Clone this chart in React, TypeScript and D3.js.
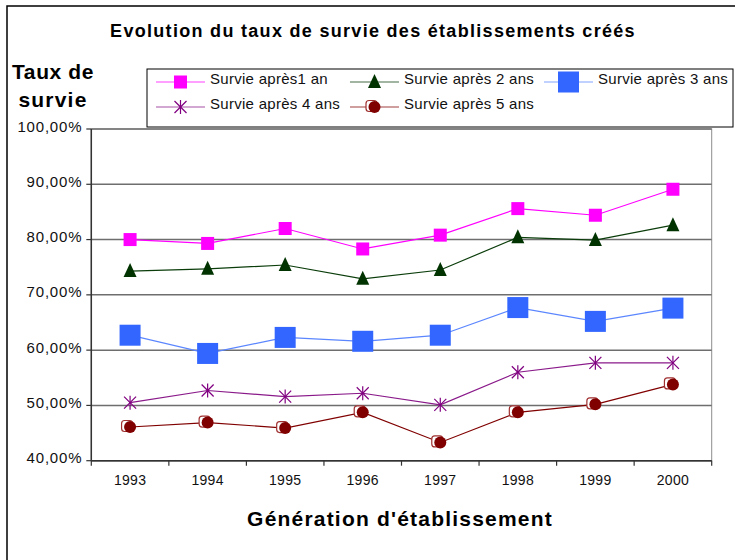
import React from "react";
import * as d3 from "d3";

const years = ["1993", "1994", "1995", "1996", "1997", "1998", "1999", "2000"];
const survie1 = [80.0, 79.3, 82.0, 78.3, 80.8, 85.6, 84.4, 89.1];
const survie2 = [74.3, 74.7, 75.4, 72.9, 74.5, 80.4, 79.9, 82.6];
const survie3 = [62.7, 59.4, 62.3, 61.6, 62.7, 67.7, 65.2, 67.6];
const survie4 = [50.5, 52.7, 51.6, 52.2, 50.1, 56.0, 57.7, 57.7];
const survie5 = [46.1, 46.9, 45.9, 48.75, 43.3, 48.75, 50.2, 53.8];
const yTicks = [40, 50, 60, 70, 80, 90, 100];
const seriesNames = [
  "Survie après1 an",
  "Survie après 2 ans",
  "Survie après 3 ans",
  "Survie après 4 ans",
  "Survie après 5 ans",
];

const FONT = "'Liberation Sans', Arial, sans-serif";

type Kind = "sq" | "tri" | "bigsq" | "star" | "circ";

const series: { name: string; values: number[]; line: string; kind: Kind }[] = [
  { name: seriesNames[0], values: survie1, line: "#ff00ff", kind: "sq" },
  { name: seriesNames[1], values: survie2, line: "#0b3d0b", kind: "tri" },
  { name: seriesNames[2], values: survie3, line: "#5b86ff", kind: "bigsq" },
  { name: seriesNames[3], values: survie4, line: "#8a1a8a", kind: "star" },
  { name: seriesNames[4], values: survie5, line: "#800000", kind: "circ" },
];

function Marker({ kind, x, y }: { kind: Kind; x: number; y: number }) {
  switch (kind) {
    case "sq":
      return <rect x={x - 6.5} y={y - 6.5} width={13} height={13} fill="#ff00ff" />;
    case "tri":
      return (
        <path
          d={`M${x},${y - 8}L${x + 6.5},${y + 6}L${x - 6.5},${y + 6}Z`}
          fill="#003300"
        />
      );
    case "bigsq":
      return <rect x={x - 10.5} y={y - 10.5} width={21} height={21} fill="#3366ff" />;
    case "star":
      return (
        <g stroke="#800080" strokeWidth={1.2}>
          <line x1={x - 6} y1={y - 6} x2={x + 6} y2={y + 6} />
          <line x1={x - 6} y1={y + 6} x2={x + 6} y2={y - 6} />
          <line x1={x} y1={y - 7} x2={x} y2={y + 7} />
        </g>
      );
    case "circ":
      return (
        <g>
          <rect
            x={x - 8.5}
            y={y - 6.5}
            width={11}
            height={11}
            rx={3}
            fill="#ffffff"
            stroke="#a03030"
            strokeWidth={1.2}
          />
          <circle cx={x} cy={y} r={6} fill="#800000" />
        </g>
      );
  }
}

export default function App() {
  const left = 91.3;
  const right = 711.7;
  const top = 129;
  const bottom = 460.7;

  const x = d3.scaleBand<string>().domain(years).range([left, right]);
  const y = d3.scaleLinear().domain([40, 100]).range([bottom, top]);
  const cx = (d: string) => (x(d) as number) + x.bandwidth() / 2;

  const line = d3
    .line<number>()
    .x((_, i) => cx(years[i]))
    .y((v) => y(v));

  const legendCols = [156, 350, 544];
  const legendRows = [82, 107];

  return (
    <svg
      width={735}
      height={560}
      style={{ position: "absolute", left: 0, top: 0, background: "#fff" }}
      fontFamily={FONT}
    >
      <rect x={0} y={0} width={735} height={560} fill="#fff" />
      {/* outer frame */}
      <rect x={7} y={6} width={760} height={600} fill="none" stroke="#000" strokeWidth={1.5} />

      {/* title */}
      <text
        x={373}
        y={36.5}
        textAnchor="middle"
        fontSize={18}
        fontWeight="bold"
        letterSpacing={1.3}
      >
        Evolution du taux de survie des établissements créés
      </text>

      {/* y title */}
      <text x={53} y={79} textAnchor="middle" fontSize={21} fontWeight="bold" letterSpacing={0.6}>
        Taux de
      </text>
      <text x={53} y={107} textAnchor="middle" fontSize={21} fontWeight="bold" letterSpacing={1.2}>
        survie
      </text>

      {/* plot area border */}
      <rect
        x={left}
        y={top}
        width={right - left}
        height={bottom - top}
        fill="#fff"
        stroke="#8c8c8c"
        strokeWidth={1}
      />

      {/* gridlines */}
      {yTicks.map((t) => (
        <line
          key={"g" + t}
          x1={left}
          x2={right}
          y1={y(t)}
          y2={y(t)}
          stroke="#6e6e6e"
          strokeWidth={1.5}
        />
      ))}

      {/* y axis */}
      <line x1={left} x2={left} y1={top} y2={bottom} stroke="#333" strokeWidth={1.5} />
      {yTicks.map((t) => (
        <g key={"yt" + t}>
          <line x1={left - 5} x2={left} y1={y(t)} y2={y(t)} stroke="#333" strokeWidth={1.2} />
          <text
            x={left - 9}
            y={y(t) + 2.5}
            textAnchor="end"
            fontSize={15}
            letterSpacing={0.8}
            fill="#111"
          >
            {t.toFixed(2).replace(".", ",") + "%"}
          </text>
        </g>
      ))}

      {/* x axis */}
      <line x1={left} x2={right} y1={bottom} y2={bottom} stroke="#333" strokeWidth={1.5} />
      {years.concat(["end"]).map((yr, i) => {
        const xx = i < years.length ? (x(yr) as number) : right;
        return (
          <line key={"xt" + i} x1={xx} x2={xx} y1={bottom} y2={bottom + 5} stroke="#333" strokeWidth={1.2} />
        );
      })}
      {years.map((yr) => (
        <text key={"xl" + yr} x={cx(yr)} y={485} textAnchor="middle" fontSize={14} letterSpacing={0.3} fill="#111">
          {yr}
        </text>
      ))}

      {/* x title */}
      <text x={400} y={525.5} textAnchor="middle" fontSize={21} fontWeight="bold" letterSpacing={1.2}>
        Génération d'établissement
      </text>

      {/* series lines */}
      {series.map((s) => (
        <path key={"l" + s.name} d={line(s.values) || ""} fill="none" stroke={s.line} strokeWidth={1.2} />
      ))}
      {/* markers */}
      {series.map((s) =>
        s.values.map((v, i) => (
          <Marker key={s.name + i} kind={s.kind} x={cx(years[i])} y={y(v)} />
        ))
      )}

      {/* legend */}
      <rect x={147} y={69} width={586} height={58} fill="#fff" stroke="#000" strokeWidth={1} />
      {series.map((s, i) => {
        const col = legendCols[i % 3];
        const row = legendRows[Math.floor(i / 3)];
        return (
          <g key={"lg" + s.name}>
            <line x1={col} x2={col + 49} y1={row} y2={row} stroke={s.line} strokeWidth={1.2} opacity={0.75} />
            <Marker kind={s.kind} x={col + 24.5} y={row} />
            <text x={col + 54} y={row + 2} fontSize={15} letterSpacing={0.28} fill="#111">
              {s.name}
            </text>
          </g>
        );
      })}
    </svg>
  );
}
